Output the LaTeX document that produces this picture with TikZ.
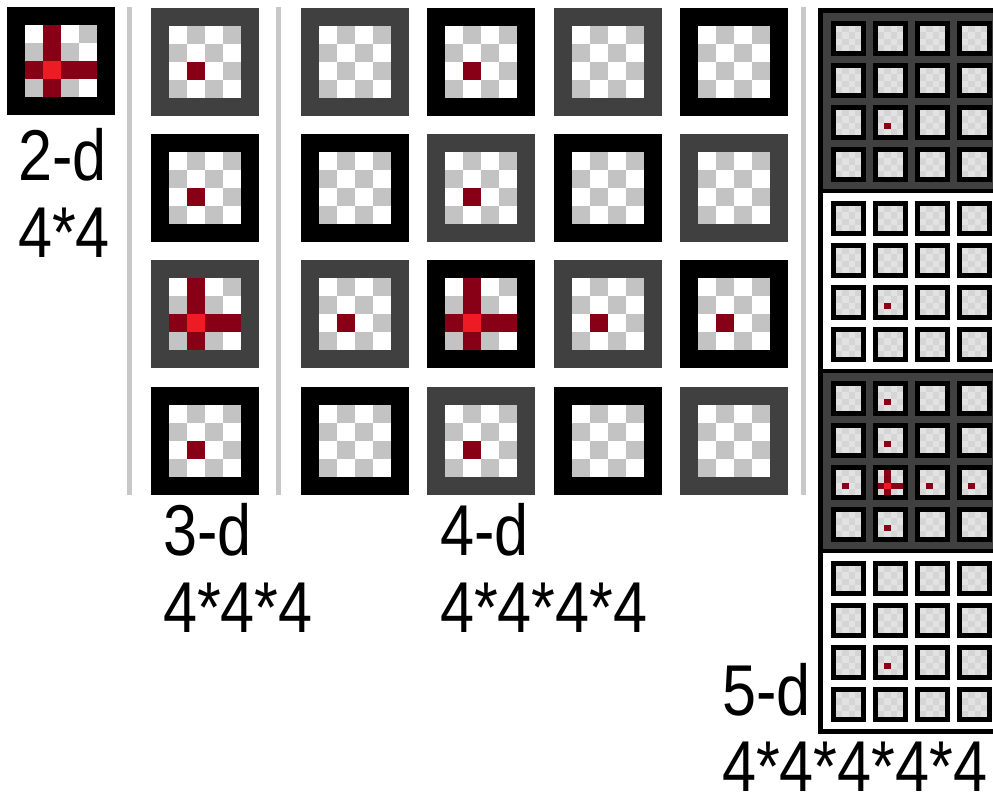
\documentclass[tikz,border=0pt]{standalone}
\usepackage{fontspec}
\setmainfont{Liberation Sans}
\definecolor{dgray}{HTML}{404040}
\definecolor{cgray}{HTML}{C3C3C3}
\definecolor{sgA}{HTML}{E2E2E2}
\definecolor{sgB}{HTML}{D5D5D5}
\definecolor{sepgray}{HTML}{C8C8C8}
\definecolor{dred}{HTML}{880015}
\definecolor{bred}{HTML}{ED1C24}
\newcommand{\BigTile}[4]{%
  \fill[#3] (#1,#2) rectangle ++(108,108);
  \foreach \ii in {0,...,3}{\foreach \jj in {0,...,3}{%
    \pgfmathtruncatemacro{\pty}{mod(\ii+\jj,2)}%
    \ifnum\pty=0 \def\ccol{white}\else\def\ccol{cgray}\fi
    \fill[\ccol] ({#1+18+18*\jj},{#2+18+18*\ii}) rectangle ++(18,18);
  }}
  \ifcase#4\relax
  \or
    \fill[dred] ({#1+36},{#2+54}) rectangle ++(18,18);
  \or
    \fill[dred] ({#1+18},{#2+54}) rectangle ++(72,18);
    \fill[dred] ({#1+36},{#2+18}) rectangle ++(18,72);
    \fill[bred] ({#1+36},{#2+54}) rectangle ++(18,18);
  \fi
}
\newcommand{\SmallTile}[3]{%
  \fill[black] (#1,#2) rectangle ++(35,35);
  \foreach \ii in {0,...,3}{\foreach \jj in {0,...,3}{%
    \pgfmathtruncatemacro{\pty}{mod(\ii+\jj,2)}%
    \ifnum\pty=0 \def\ccol{sgA}\else\def\ccol{sgB}\fi
    \fill[\ccol] ({#1+5+6.25*\jj},{#2+5+6.25*\ii}) rectangle ++(6.25,6.25);
  }}
  \ifcase#3\relax
  \or
    \fill[dred] ({#1+11.25},{#2+17.5}) rectangle ++(6.25,6.25);
  \or
    \fill[dred] ({#1+5},{#2+17.5}) rectangle ++(25,6.25);
    \fill[dred] ({#1+11.25},{#2+5}) rectangle ++(6.25,25);
    \fill[bred] ({#1+11.25},{#2+17.5}) rectangle ++(6.25,6.25);
  \fi
}
\tikzset{lbl/.style={anchor=base west, inner sep=0pt, outer sep=0pt,
  font=\fontsize{72}{72}\selectfont}}
\begin{document}
\begin{tikzpicture}[x=1pt,y=-1pt]
\clip (0,0) rectangle (993,795);
\fill[white] (0,0) rectangle (993,795);
% separators
\fill[sepgray] (127,7) rectangle (131.5,495);
\fill[sepgray] (276,7) rectangle (280.5,495);
\fill[sepgray] (801,7) rectangle (805.5,495);
% 2-d
\BigTile{7}{7}{black}{2}
% 3-d
\BigTile{151}{7.5}{dgray}{1}
\BigTile{151}{133.9}{black}{1}
\BigTile{151}{260.3}{dgray}{2}
\BigTile{151}{386.7}{black}{1}
% 4-d
\foreach \cc in {0,...,3}{\foreach \rr in {0,...,3}{%
  \pgfmathtruncatemacro{\pty}{mod(\rr+\cc,2)}%
  \pgfmathtruncatemacro{\typ}{(\rr==2 && \cc==1) ? 2 : ((\rr==2 || \cc==1) ? 1 : 0)}%
  \ifnum\pty=0 \def\fcol{dgray}\else\def\fcol{black}\fi
  \BigTile{301+126.4*\cc}{7.5+126.4*\rr}{\fcol}{\typ}
}}
% 5-d
\fill[black] (818,8) rectangle (1000,734);
\foreach \kk in {0,...,3}{%
  \pgfmathtruncatemacro{\pty}{mod(\kk,2)}%
  \ifnum\pty=0 \def\bcol{dgray}\else\def\bcol{white}\fi
  \fill[\bcol] (823,{13+180*\kk}) rectangle (1000,{189+180*\kk});
  \foreach \rr in {0,...,3}{\foreach \cc in {0,...,3}{%
    \pgfmathtruncatemacro{\typ}{(\kk==2) ? ((\rr==2 && \cc==1) ? 2 : ((\rr==2 || \cc==1) ? 1 : 0)) : ((\rr==2 && \cc==1) ? 1 : 0)}%
    \SmallTile{831+42*\cc}{21+180*\kk+42*\rr}{\typ}
  }}
}
% labels
\node[lbl] (l2a) at (18,180) {\scalebox{0.85}[1]{2-d}};
\node[lbl] (l2b) at (18,257) {\scalebox{0.85}[1]{4*4}};
\node[lbl] (l3a) at (163,555) {\scalebox{0.85}[1]{3-d}};
\node[lbl] (l3b) at (163,632) {\scalebox{0.85}[1]{4*4*4}};
\node[lbl] (l4a) at (440,555) {\scalebox{0.85}[1]{4-d}};
\node[lbl] (l4b) at (440,632) {\scalebox{0.85}[1]{4*4*4*4}};
\node[lbl] (l5a) at (722,715) {\scalebox{0.85}[1]{5-d}};
\node[lbl] (l5b) at (722,791) {\scalebox{0.85}[1]{4*4*4*4*4}};
\end{tikzpicture}
\end{document}
